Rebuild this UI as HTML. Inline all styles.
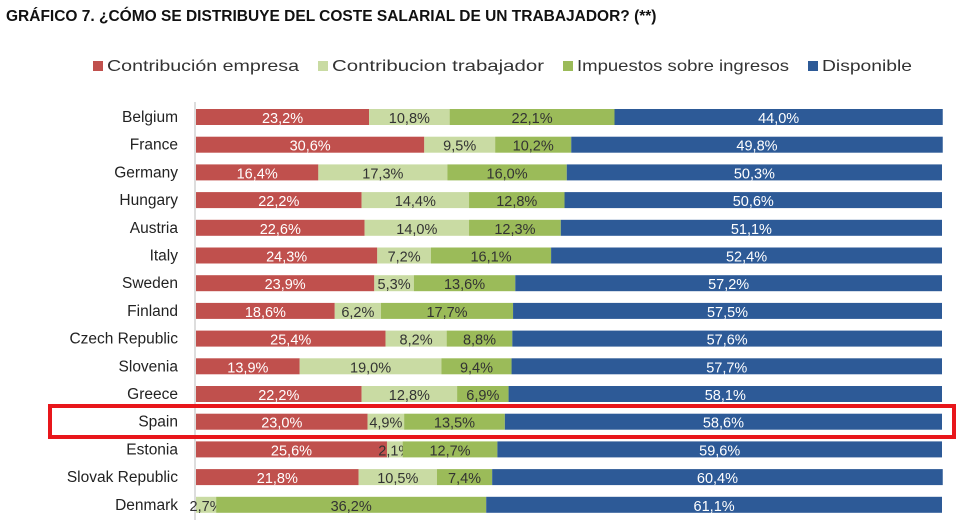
<!DOCTYPE html>
<html><head><meta charset="utf-8"><style>
body{margin:0;background:#fff;width:979px;height:520px;overflow:hidden;font-family:"Liberation Sans",sans-serif}
</style></head><body>
<svg width="979" height="520">
<text x="6" y="21" font-size="15.5" font-weight="bold" fill="#111">GRÁFICO 7. ¿CÓMO SE DISTRIBUYE DEL COSTE SALARIAL DE UN TRABAJADOR? (**)</text>
<g id="legend"></g>
<line x1="195" y1="102" x2="195" y2="520" stroke="#bbb"/>
<g id="bars"></g>
<rect x="50" y="406" width="904" height="31" fill="none" stroke="#e8161b" stroke-width="4"/>
</svg>
<script>
const countries=["Belgium","France","Germany","Hungary","Austria","Italy","Sweden","Finland","Czech Republic","Slovenia","Greece","Spain","Estonia","Slovak Republic","Denmark"];
const empresa=[23.2,30.6,16.4,22.2,22.6,24.3,23.9,18.6,25.4,13.9,22.2,23.0,25.6,21.8,0];
const trabajador=[10.8,9.5,17.3,14.4,14.0,7.2,5.3,6.2,8.2,19.0,12.8,4.9,2.1,10.5,2.7];
const impuestos=[22.1,10.2,16.0,12.8,12.3,16.1,13.6,17.7,8.8,9.4,6.9,13.5,12.7,7.4,36.2];
const disponible=[44.0,49.8,50.3,50.6,51.1,52.4,57.2,57.5,57.6,57.7,58.1,58.6,59.6,60.4,61.1];
const seriesNames=["Contribución empresa","Contribucion trabajador","Impuestos sobre ingresos","Disponible"];
const series=[empresa,trabajador,impuestos,disponible];
const colors=["#c0504d","#c9dba3","#9bbb59","#2d5a97"];
const txt=["#fff","#333","#333","#fff"];
const NS="http://www.w3.org/2000/svg";
const x0=196,x1=942,yTop=117,step=27.7,bh=16;
const xs=v=>v*(x1-x0)/100;
const ys=i=>yTop+i*step;
function mk(t,a,p){const e=document.createElementNS(NS,t);for(const k in a)e.setAttribute(k,a[k]);p.appendChild(e);return e;}
const lg=document.getElementById('legend');
const lx=[93,318,563,808];
const lw=[192,212,212,90];
seriesNames.forEach((n,s)=>{
 const r=mk('rect',{x:lx[s],y:61,width:10,height:10,fill:colors[s]},lg);
 
 
 const t=mk('text',{x:lx[s]+14,y:71,'font-size':16,fill:'#333',textLength:lw[s],lengthAdjust:'spacingAndGlyphs'},lg);t.textContent=n;
 
 
});
const g=document.getElementById('bars');
countries.forEach((c,i)=>{
 const y=ys(i);
 const l=mk('text',{x:178,y:y+5,'font-size':15.5,'text-anchor':'end',fill:'#222'},g);l.textContent=c;
 
 
 let acc=0;
 series.forEach((arr,s)=>{
  const v=arr[i];if(!v)return;
  const r=mk('rect',{x:x0+xs(acc),y:y-bh/2,width:xs(v),height:bh,fill:colors[s]},g);
  
  
  const t=mk('text',{x:x0+xs(acc+v/2),y:y+6,'font-size':14.5,'text-anchor':'middle',fill:txt[s]},g);
  t.textContent=v.toFixed(1).replace('.',',')+'%';
  
  
  acc+=v;
 });
});
</script>
</body></html>
